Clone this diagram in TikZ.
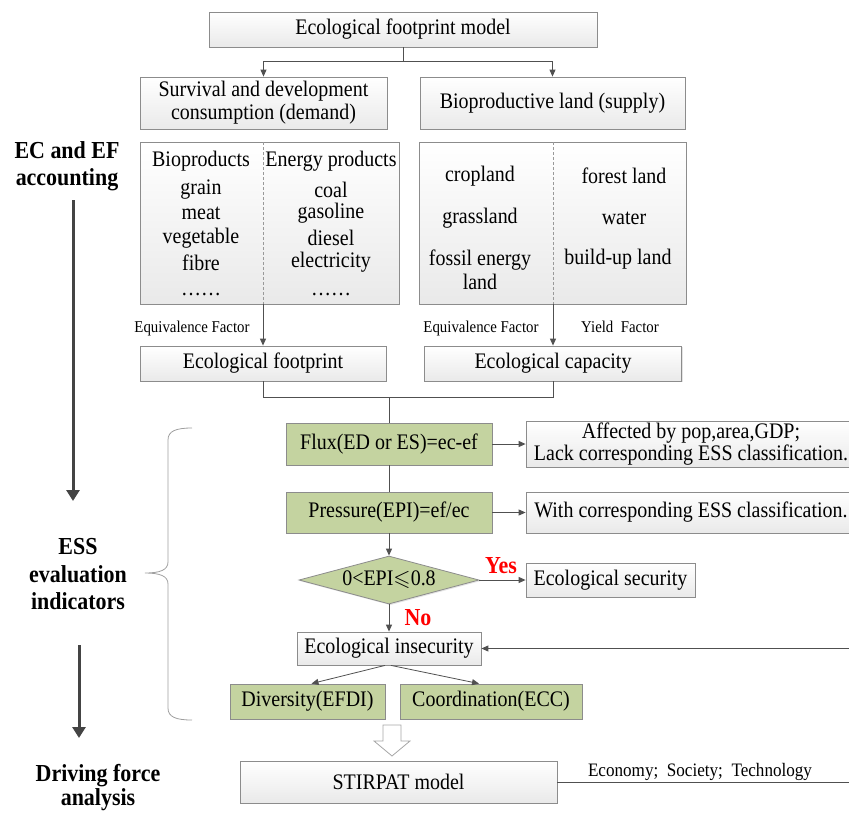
\documentclass[tikz,border=0pt]{standalone}
\usepackage{amssymb}
\usepackage{fontspec}
\setmainfont{Liberation Serif}[FakeStretch=0.9]
\usetikzlibrary{arrows.meta,shapes.geometric,shadows,calc}
\definecolor{lnc}{HTML}{505050}
\definecolor{grn}{RGB}{196,211,160}
\definecolor{bdr}{HTML}{8C8C8C}
\definecolor{bigc}{HTML}{444444}
\begin{document}
\begin{tikzpicture}[x=1pt,y=-1pt,
  shad/.style={drop shadow={shadow xshift=1.2pt,shadow yshift=-1.2pt,opacity=0.22}},
  sz/.style 2 args={minimum width=#1,minimum height=#2},
  box/.style={draw=bdr,line width=0.8pt,top color=white,bottom color=gray!17,inner sep=0pt,align=center,font=\fontsize{22.2}{24}\selectfont,shad},
  gbox/.style={draw=bdr,line width=0.8pt,fill=grn,inner sep=0pt,align=center,font=\fontsize{22.2}{24}\selectfont,shad},
  txt/.style={inner sep=0pt,align=center,font=\fontsize{22.2}{24}\selectfont},
  dots/.style={inner sep=0pt,anchor=base,text height=4pt,text depth=0pt,font=\fontsize{22.2}{24}\selectfont},
  sm/.style={inner sep=0pt,anchor=base,font=\fontsize{16.5}{18}\selectfont},
  lbl/.style={inner sep=0pt,align=center,font=\fontsize{24.4}{27}\selectfont\bfseries},
  rd/.style={inner sep=0pt,text=red,font=\fontsize{24.4}{26}\selectfont\bfseries},
  ln/.style={draw=lnc,line width=1pt},
  arr/.style={ln,-{Triangle[length=7pt,width=6pt]}},
  bigarr/.style={draw=bigc,line width=3pt,-{Triangle[length=11pt,width=13pt]}},
  dsh/.style={draw=gray!80,line width=0.7pt,dash pattern=on 3pt off 2pt}
]
\useasboundingbox (0,0) rectangle (849,812);
\clip (0,0) rectangle (849,812);

% ---- top part
\node[box,sz={388}{35}] (top) at (403,29.5) {Ecological footprint model};
\node[box,sz={247}{52},font=\fontsize{22.2}{23}\selectfont] (surv) at (263.5,103) {Survival and development\\consumption (demand)};
\node[box,sz={265}{52}] (bio) at (552.5,103) {Bioproductive land (supply)};
\draw[arr] (top.south) -- ++(0,14) -| (surv.north);
\draw[arr] (top.south) -- ++(0,14) -| (bio.north);

\node[box,sz={259}{162}] (lb) at (269.5,223) {};
\node[box,sz={267}{162}] (rb) at (552.5,223) {};
\coordinate (ldt) at (263,142);
\coordinate (ldb) at (263,304);
\coordinate (rdt) at (553,142);
\coordinate (rdb) at (553,304);
\draw[dsh] (ldt) -- (ldb);
\draw[dsh] (rdt) -- (rdb);

\foreach \t/\y [count=\i] in {Bioproducts/161,grain/190,meat/213,vegetable/238,fibre/263}
  \node[txt] (bp\i) at (201,\y) {\t};
\node[dots] (bp6) at (201,295) {……};
\foreach \t/\y [count=\i] in {Energy products/161,coal/190,gasoline/213,diesel/238,electricity/262}
  \node[txt] (ep\i) at (331,\y) {\t};
\node[dots] (ep6) at (331,295) {……};

\node[txt] (crop) at (480,176) {cropland};
\node[txt] (grass) at (480,218) {grassland};
\node[txt,font=\fontsize{22.2}{24}\selectfont] (fossil) at (480,270) {fossil energy\\land};
\node[txt] (forest) at (624,176) {forest land};
\node[txt] (water) at (624,218) {water};
\node[txt] (build) at (618,259) {build-up land};

\node[box,sz={246}{35}] (ef) at (263,363.5) {Ecological footprint};
\node[box,sz={257}{35}] (ec) at (553,363.5) {Ecological capacity};
\draw[arr] (ldb) -- (ef.north);
\draw[arr] (rdb) -- (ec.north);
\node[sm] (eqf1) at (192,332) {Equivalence Factor};
\node[sm] (eqf2) at (481,332) {Equivalence Factor};
\node[sm] (yf) at (620,332) {Yield\ \ Factor};

% ---- ESS part
\node[gbox,sz={206}{42}] (flux) at (389,444) {Flux(ED or ES)=ec-ef};
\node[box,sz={330}{46},font=\fontsize{22.2}{19.5}\selectfont] (aff) at (691,444) {Affected by pop,area,GDP;\\Lack corresponding ESS classification.};
\node[gbox,sz={206}{41}] (pres) at (389,512.5) {Pressure(EPI)=ef/ec};
\node[box,sz={330}{41}] (with) at (691,512.5) {With corresponding ESS classification.};
\draw[ln] (ef.south) -- ++(0,16) coordinate (mL) -| (ec.south);
\draw[ln] (flux.north |- mL) -- (flux.north);
\draw[arr] (flux.east) -- (aff.west);
\draw[ln] (flux.south) -- (pres.north);
\draw[arr] (pres.east) -- (with.west);

\node[gbox,diamond,aspect=3.75,sz={180}{48}] (dia) at (389,580) {0<EPI$\leqslant$0.8};
\draw[arr] (pres.south) -- (dia.north);
\node[box,sz={169}{34}] (sec) at (610.5,580) {Ecological security};
\draw[arr] (dia.east) -- (sec.west);
\node[rd] (yes) at (501,566) {Yes};
\node[box,sz={184}{33}] (ins) at (389,648.5) {Ecological insecurity};
\draw[arr] (dia.south) -- (ins.north);
\node[rd] (no) at (418,618) {No};
\coordinate (rE1) at (852,648.5);
\draw[arr] (rE1) -- (ins.east);

\node[gbox,sz={155}{35}] (div) at (307.5,701.5) {Diversity(EFDI)};
\node[gbox,sz={182}{35}] (coo) at (491,701.5) {Coordination(ECC)};
\draw[arr,line width=0.8pt] ($(ins.south)+(-4,0)$) -- ($(div.north)+(4,0)$);
\draw[arr,line width=0.8pt] ($(ins.south)+(2,0)$) -- ($(coo.north)+(-12,0)$);

% hollow arrow
\draw[draw=gray!70,line width=0.8pt,fill=white]
  (383,725) -- (401,725) -- (401,741) -- (410,741) -- (392,756) -- (374,741) -- (383,741) -- cycle;

\node[box,sz={317}{42}] (st) at (398.5,782) {STIRPAT model};
\coordinate (rE2) at (852,782);
\draw[ln] (st.east) -- (rE2);
\node[inner sep=0pt,anchor=base,font=\fontsize{19}{21}\selectfont] (eco) at (700,776) {Economy;\ \ Society;\ \ Technology};

% ---- left labels
\node[lbl] (l1) at (67,166) {EC and EF\\accounting};
\coordinate (a1s) at (73,200);
\coordinate (a1e) at (73,501);
\draw[bigarr] (a1s) -- (a1e);
\node[lbl,font=\fontsize{24.4}{27.5}\selectfont\bfseries] (l2) at (78,574.5) {ESS\\evaluation\\indicators};
\coordinate (a2s) at (79,645);
\coordinate (a2e) at (79,738);
\draw[bigarr] (a2s) -- (a2e);
\node[lbl,font=\fontsize{24.4}{24}\selectfont\bfseries] (l3) at (98,788) {Driving force\\analysis};

% brace
\draw[draw=gray!75,line width=0.8pt]
  (192,428) .. controls (176,428) and (168,431) .. (168,440) -- (168,562)
  .. controls (168,570) and (160,573) .. (145,573)
  .. controls (160,573) and (168,576) .. (168,584) -- (168,708)
  .. controls (168,717) and (176,720) .. (192,720);
\end{tikzpicture}
\end{document}
